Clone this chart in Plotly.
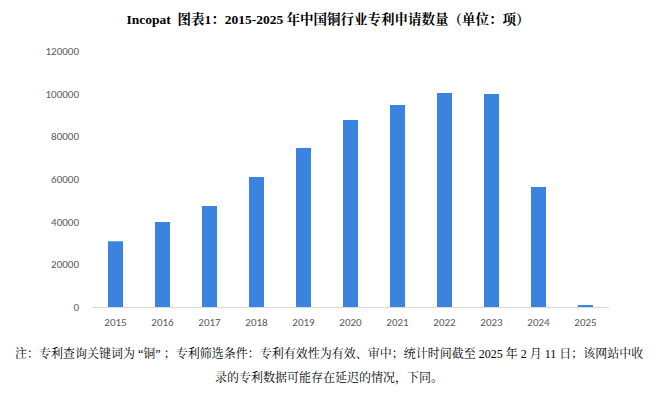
import plotly.graph_objects as go

years = ["2015", "2016", "2017", "2018", "2019", "2020", "2021", "2022", "2023", "2024", "2025"]
applications = [30800, 39800, 47300, 60900, 74500, 87600, 94700, 100300, 99800, 56200, 500]
y_ticks = [0, 20000, 40000, 60000, 80000, 100000, 120000]

title_text = "Incopat  图表1：2015-2025 年中国铜行业专利申请数量（单位：项）"
note_line1 = ("注：专利查询关键词为 “铜” ；专利筛选条件：专利有效性为有效、审中；"
              "统计时间截至 2025 年 2 月 11 日；该网站中收")
note_line2 = "录的专利数据可能存在延迟的情况，下同。"

serif = "Liberation Serif, Times New Roman, Noto Serif CJK SC, Noto Sans CJK SC, serif"
sans = "Carlito, Open Sans, Noto Sans, Liberation Sans, sans-serif"

fig = go.Figure(
    go.Bar(
        x=years,
        y=applications,
        marker=dict(color="#3a84e0", line=dict(width=0)),
        hoverinfo="x+y",
    )
)

W, H = 657, 397
ml, mr, mt, mb = 92, 48, 51, 90
ph = H - mt - mb
pw = W - ml - mr

fig.update_layout(
    width=W,
    height=H,
    margin=dict(l=ml, r=mr, t=mt, b=mb),
    paper_bgcolor="white",
    plot_bgcolor="white",
    bargap=0.68,
    showlegend=False,
    title=dict(
        text="<b>" + title_text + "</b>",
        x=328 / W,
        xanchor="center",
        y=1 - 19 / H,
        yanchor="middle",
        font=dict(family=serif, size=13.5, color="black"),
    ),
    xaxis=dict(
        type="category",
        showgrid=False,
        showline=True,
        linecolor="#d9d9d9",
        linewidth=1,
        ticks="",
        ticklabelstandoff=5,
        tickfont=dict(family=sans, size=11, color="#595959"),
        zeroline=False,
    ),
    yaxis=dict(
        range=[0, 120000],
        tickvals=y_ticks,
        ticktext=[str(v) for v in y_ticks],
        showgrid=False,
        zeroline=False,
        showline=False,
        ticks="",
        ticklabelstandoff=12,
        tickfont=dict(family=sans, size=11, color="#595959"),
    ),
    annotations=[
        dict(
            text=note_line1,
            xref="paper", yref="paper",
            x=(329 - ml) / pw, y=-(353 - (H - mb)) / ph,
            xanchor="center", yanchor="middle",
            showarrow=False,
            font=dict(family=serif, size=12, color="black"),
        ),
        dict(
            text=note_line2,
            xref="paper", yref="paper",
            x=(329 - ml) / pw, y=-(377 - (H - mb)) / ph,
            xanchor="center", yanchor="middle",
            showarrow=False,
            font=dict(family=serif, size=12, color="black"),
        ),
    ],
)

fig.write_html(
    "out.html",
    config={"displayModeBar": False},
    post_script="document.body.style.margin='0';document.body.style.padding='0';",
)
